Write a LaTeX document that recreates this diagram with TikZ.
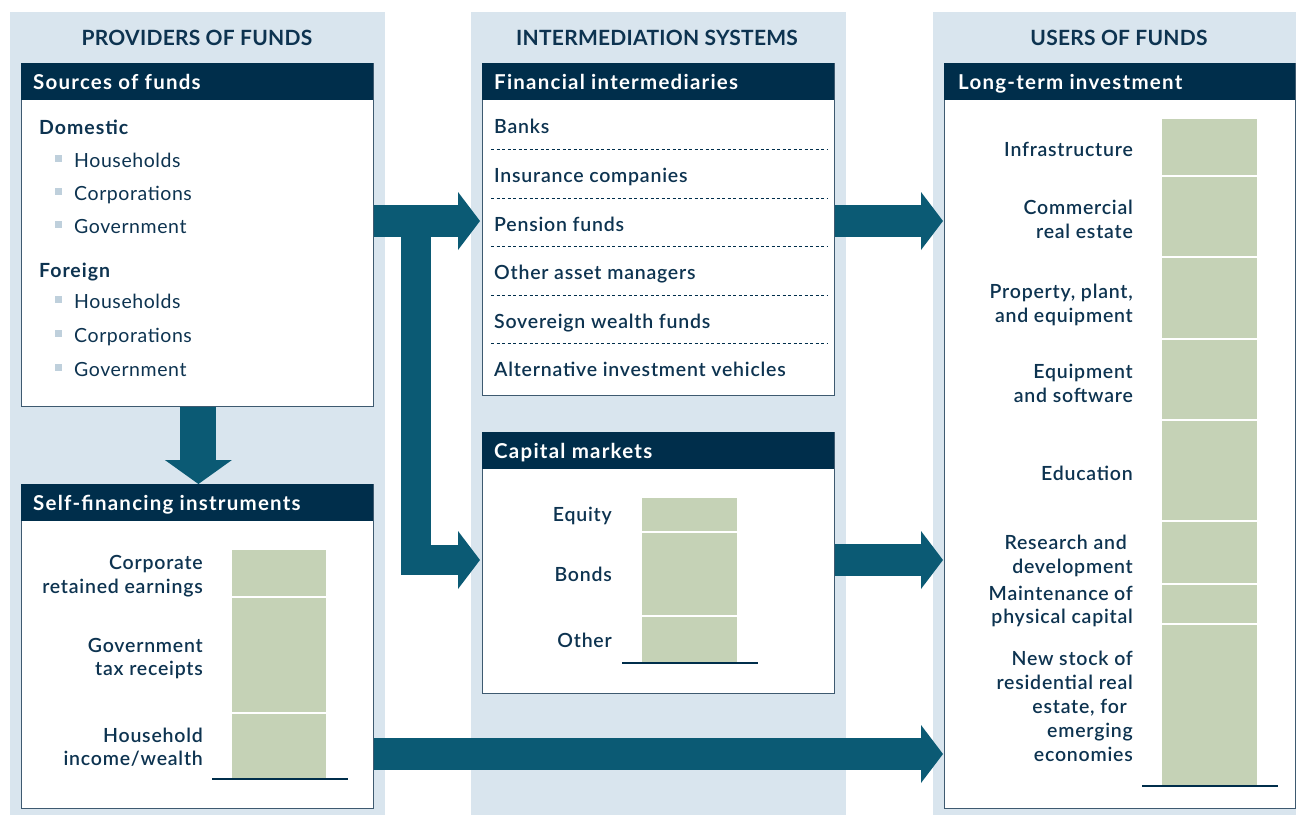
\documentclass[tikz,border=0pt]{standalone}
\usepackage{fontspec}
\setmainfont{Lato}
\newfontfamily\semib{Lato Semibold}[LetterSpace=4]
\usetikzlibrary{arrows.meta,calc}
\definecolor{bgblue}{HTML}{D9E5EE}
\definecolor{navy}{HTML}{002E4B}
\definecolor{arrowc}{HTML}{0B5A74}
\definecolor{txt}{HTML}{0D3350}
\definecolor{barg}{HTML}{C5D2B6}
\definecolor{bul}{HTML}{BFD0DC}
\definecolor{border}{HTML}{3E5A70}
\begin{document}
\begin{tikzpicture}[x=1pt,y=-1pt,
  coltitle/.style={font=\fontsize{21}{24}\selectfont\bfseries\addfontfeature{LetterSpace=1.2}, text=txt, inner sep=0, anchor=base},
  box/.style={draw=border, line width=0.8pt, fill=white, anchor=north west, inner sep=0},
  hdr/.style={fill=navy, anchor=north west, minimum height=37pt, inner sep=0},
  hdrtxt/.style={font=\fontsize{20.5}{24}\selectfont\bfseries\addfontfeature{LetterSpace=6}, text=white, inner sep=0, anchor=base west},
  grp/.style={font=\fontsize{19.5}{24}\selectfont\bfseries\addfontfeature{LetterSpace=5}, text=txt, inner sep=0, anchor=base west},
  item/.style={font=\fontsize{19.5}{24}\semib, text=txt, inner sep=0, anchor=base west},
  sub/.style={font=\fontsize{19.5}{24}\selectfont\addfontfeature{LetterSpace=3}, text=txt, inner sep=0, anchor=base west},
  lbl/.style={font=\fontsize{19.5}{24}\semib, text=txt, inner sep=0, anchor=base east},
  bulsq/.style={fill=bul, minimum size=7pt, inner sep=0},
  fatarrow/.style={draw=arrowc, line width=32pt, -{Triangle[width=58pt,length=22pt,line width=0pt]}},
  fatdown/.style={draw=arrowc, line width=36pt, -{Triangle[width=67pt,length=24pt,line width=0pt]}},
  sep/.style={draw=white, line width=2pt},
  baseln/.style={draw=navy, line width=2pt},
  dots/.style={draw=navy, line width=0.9pt, dash pattern=on 3pt off 2.5pt}
]
\useasboundingbox (0,0) rectangle (1296,815);
% column backgrounds
\fill[bgblue] (10,12) rectangle (385,815);
\fill[bgblue] (471,12) rectangle (846,815);
\fill[bgblue] (933,12) rectangle (1296,815);
% column titles
\node[coltitle] (t1) at (197,45) {PROVIDERS OF FUNDS};
\node[coltitle] (t2) at (657,45) {INTERMEDIATION SYSTEMS};
\node[coltitle] (t3) at (1119,45) {USERS OF FUNDS};

% ---------- boxes ----------
\node[box, minimum width=352pt, minimum height=343pt] (src) at (21,63) {};
\node[hdr, minimum width=352pt] (srch) at (src.north west) {};
\node[hdrtxt] (srct) at ([xshift=12pt,yshift=-26pt]srch.north west) {Sources of funds};

\node[box, minimum width=352pt, minimum height=324pt] (self) at (21,484) {};
\node[hdr, minimum width=352pt] (selfh) at (self.north west) {};
\node[hdrtxt] (selft) at ([xshift=12pt,yshift=-26pt]selfh.north west) {Self-financing instruments};

\node[box, minimum width=352pt, minimum height=332pt] (fin) at (482,63) {};
\node[hdr, minimum width=352pt] (finh) at (fin.north west) {};
\node[hdrtxt] (fint) at ([xshift=12pt,yshift=-26pt]finh.north west) {Financial intermediaries};

\node[box, minimum width=352pt, minimum height=261pt] (cap) at (482,432) {};
\node[hdr, minimum width=352pt] (caph) at (cap.north west) {};
\node[hdrtxt] (capt) at ([xshift=12pt,yshift=-26pt]caph.north west) {Capital markets};

\node[box, minimum width=351pt, minimum height=745pt] (lti) at (944,63) {};
\node[hdr, minimum width=351pt] (ltih) at (lti.north west) {};
\node[hdrtxt] (ltit) at ([xshift=14pt,yshift=-26pt]ltih.north west) {Long-term investment};

% ---------- sources list ----------
\node[grp] (dom) at (39,134) {Domestic};
\node[bulsq] (b1) at (58.5,158.5) {};
\node[sub] (d1) at (74,167) {Households};
\node[bulsq] (b2) at (58.5,191.5) {};
\node[sub] (d2) at (74,200) {Corporations};
\node[bulsq] (b3) at (58.5,224.5) {};
\node[sub] (d3) at (74,233) {Government};
\node[grp] (for) at (39,277) {Foreign};
\node[bulsq] (b4) at (58.5,299.5) {};
\node[sub] (f1) at (74,308) {Households};
\node[bulsq] (b5) at (58.5,333.5) {};
\node[sub] (f2) at (74,342) {Corporations};
\node[bulsq] (b6) at (58.5,367.5) {};
\node[sub] (f3) at (74,376) {Government};

% ---------- self-financing bar ----------
\fill[barg] (232,550) rectangle (326,779);
\draw[sep] (232,597) -- (326,597);
\draw[sep] (232,713) -- (326,713);
\draw[baseln] (212,779) -- (348,779);
\node[lbl] (s1a) at (203,569) {Corporate};
\node[lbl] (s1b) at (203,593) {retained earnings};
\node[lbl] (s2a) at (203,652) {Government};
\node[lbl] (s2b) at (203,675) {tax receipts};
\node[lbl] (s3a) at (203,742) {Household};
\node[lbl] (s3b) at (203,765) {income/wealth};

% ---------- financial intermediaries ----------
\node[item] (i1) at (494,133) {Banks};
\node[item] (i2) at (494,182) {Insurance companies};
\node[item] (i3) at (494,231) {Pension funds};
\node[item] (i4) at (494,279) {Other asset managers};
\node[item] (i5) at (494,328) {Sovereign wealth funds};
\node[item] (i6) at (494,376) {Alternative investment vehicles};
\foreach \yy in {149,198,246,295,343} \draw[dots] (491,\yy) -- (827,\yy);

% ---------- capital markets ----------
\fill[barg] (642,498) rectangle (737,663);
\draw[sep] (642,532) -- (737,532);
\draw[sep] (642,616) -- (737,616);
\draw[baseln] (622,663) -- (758,663);
\node[lbl] (c1) at (612,521) {Equity};
\node[lbl] (c2) at (612,581) {Bonds};
\node[lbl] (c3) at (612,647) {Other};

% ---------- long-term investment ----------
\fill[barg] (1162,119) rectangle (1257,786);
\foreach \yy in {176,257,339,420,521,584,624} \draw[sep] (1162,\yy) -- (1257,\yy);
\draw[baseln] (1142,786) -- (1278,786);
\node[lbl] (u1) at (1133,156) {Infrastructure};
\node[lbl] (u2a) at (1133,214) {Commercial};
\node[lbl] (u2b) at (1133,238) {real estate};
\node[lbl] (u3a) at (1133,298) {Property, plant,};
\node[lbl] (u3b) at (1133,322) {and equipment};
\node[lbl] (u4a) at (1133,378) {Equipment};
\node[lbl] (u4b) at (1133,402) {and software};
\node[lbl] (u5) at (1133,480) {Education};
\node[lbl] (u6a) at (1127,549) {Research and};
\node[lbl] (u6b) at (1133,573) {development};
\node[lbl] (u7a) at (1133,600) {Maintenance of};
\node[lbl] (u7b) at (1133,623) {physical capital};
\node[lbl] (u8a) at (1133,665) {New stock of};
\node[lbl] (u8b) at (1133,689) {residential real};
\node[lbl] (u8c) at (1127,713) {estate, for};
\node[lbl] (u8d) at (1133,737) {emerging};
\node[lbl] (u8e) at (1133,761) {economies};

% ---------- connectors ----------
\coordinate (j1) at (416,221);
\coordinate (j3) at (416,560);
\coordinate (j4) at (416,754);
\draw[fatarrow] (src.east |- j1) -- ([xshift=-2pt]fin.west |- j1);
\draw[fatarrow, line width=30pt] (j1) |- ([xshift=-2pt]cap.west |- j3);
\draw[fatarrow] (fin.east |- j1) -- ([xshift=-1pt]lti.west |- j1);
\draw[fatarrow] (cap.east |- j3) -- ([xshift=-1pt]lti.west |- j3);
\draw[fatarrow] (self.east |- j4) -- ([xshift=-1pt]lti.west |- j4);
\draw[fatdown] ([xshift=1pt]src.south) -- ([xshift=1pt]self.north);
\end{tikzpicture}
\end{document}
